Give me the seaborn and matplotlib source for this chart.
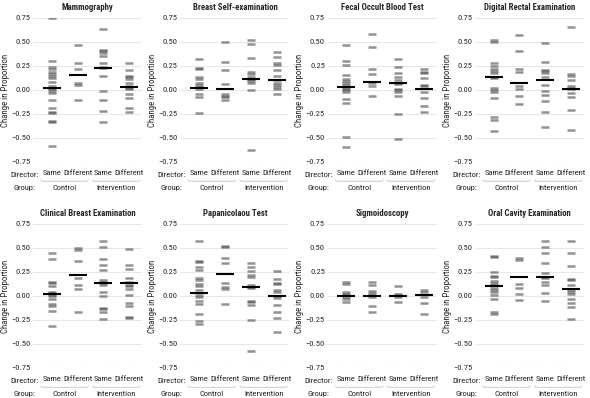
import matplotlib
matplotlib.use('Agg')
import matplotlib.pyplot as plt
import matplotlib.transforms as mtransforms
from matplotlib import font_manager
import numpy as np
import pandas as pd
import seaborn as sns

# order of the four columns in every panel
conditions = ['Control-Same', 'Control-Different', 'Intervention-Same', 'Intervention-Different']
director_labels = ['Same', 'Different', 'Same', 'Different']
group_labels = ['Control', 'Intervention']

titles = ['Mammography', 'Breast Self-examination', 'Fecal Occult Blood Test',
          'Digital Rectal Examination', 'Clinical Breast Examination',
          'Papanicolaou Test', 'Sigmoidoscopy', 'Oral Cavity Examination']

# change in proportion per practice, one list per condition (same order as conditions)
mammography = [
    [0.75, 0.30, 0.24, 0.22, 0.19, 0.17, 0.15, 0.12, 0.08, 0.04, 0.02, 0.01, -0.01, -0.03, -0.10, -0.19, -0.23, -0.24, -0.32, -0.33, -0.58],
    [0.465, 0.285, 0.22, 0.07, 0.05, -0.10],
    [0.63, 0.42, 0.41, 0.38, 0.35, 0.285, 0.24, 0.23, 0.145, -0.01, -0.10, -0.215, -0.33],
    [0.28, 0.205, 0.15, 0.13, 0.11, 0.075, 0.04, 0.025, 0.015, -0.045, -0.08, -0.19, -0.225],
]
breast_self = [
    [0.325, 0.23, 0.22, 0.135, 0.11, 0.07, 0.05, 0.035, 0.01, -0.04, -0.075, -0.235],
    [0.50, 0.29, 0.205, 0.06, -0.045, -0.06, -0.075, -0.10],
    [0.52, 0.475, 0.335, 0.19, 0.17, 0.13, 0.11, 0.11, 0.095, 0.07, -0.005, -0.625],
    [0.395, 0.345, 0.285, 0.255, 0.21, 0.145, 0.105, 0.075, 0.05, 0.03, 0.015, -0.04],
]
fecal = [
    [0.47, 0.30, 0.26, 0.16, 0.11, 0.095, 0.07, 0.05, 0.03, 0.005, -0.005, -0.02, -0.095, -0.14, -0.49, -0.59],
    [0.58, 0.45, 0.22, 0.165, 0.075, 0.04, -0.065],
    [0.32, 0.24, 0.175, 0.13, 0.10, 0.075, 0.065, 0.005, -0.005, -0.02, -0.06, -0.255, -0.51],
    [0.215, 0.19, 0.175, 0.12, 0.055, 0.04, -0.02, -0.08, -0.165, -0.23],
]
digital_rectal = [
    [0.515, 0.50, 0.285, 0.245, 0.215, 0.195, 0.175, 0.135, 0.125, 0.025, 0.0, -0.02, -0.08, -0.28, -0.315, -0.43],
    [0.57, 0.41, 0.215, 0.19, 0.04, 0.015, -0.06, -0.145],
    [0.49, 0.295, 0.21, 0.195, 0.18, 0.13, 0.05, -0.01, -0.05, -0.12, -0.23, -0.39],
    [0.66, 0.165, 0.145, 0.10, 0.04, 0.025, 0.005, -0.035, -0.07, -0.21, -0.42],
]
clinical_breast = [
    [0.45, 0.38, 0.15, 0.14, 0.10, 0.045, 0.03, 0.01, -0.005, -0.035, -0.08, -0.10, -0.155, -0.31],
    [0.50, 0.475, 0.365, 0.185, 0.115, 0.07, -0.165],
    [0.575, 0.505, 0.39, 0.32, 0.27, 0.165, 0.15, 0.13, 0.115, 0.045, -0.005, -0.13, -0.14, -0.165, -0.245],
    [0.49, 0.32, 0.285, 0.185, 0.15, 0.115, 0.10, 0.075, 0.005, -0.07, -0.10, -0.22, -0.23],
]
pap_test = [
    [0.575, 0.365, 0.35, 0.30, 0.275, 0.19, 0.165, 0.12, 0.10, 0.065, 0.005, -0.015, -0.05, -0.085, -0.19, -0.26, -0.295],
    [0.52, 0.505, 0.40, 0.345, 0.14, 0.095, 0.075, -0.08],
    [0.345, 0.305, 0.26, 0.22, 0.20, 0.11, 0.095, 0.08, -0.05, -0.065, -0.095, -0.255, -0.57],
    [0.26, 0.18, 0.14, 0.12, 0.065, 0.045, -0.005, -0.025, -0.095, -0.165, -0.23, -0.375],
]
sigmoidoscopy = [
    [0.15, 0.12, 0.04, 0.025, 0.005, -0.015, -0.035, -0.06],
    [0.15, 0.11, 0.05, 0.03, 0.005, -0.015, -0.10, -0.165],
    [0.105, 0.025, 0.005, -0.015, -0.06],
    [0.065, 0.045, -0.01, -0.07, -0.185],
]
oral_cavity = [
    [0.42, 0.405, 0.245, 0.21, 0.195, 0.155, 0.14, 0.115, 0.085, 0.065, 0.045, 0.005, -0.03, -0.17, -0.19],
    [0.40, 0.37, 0.12, 0.08, 0.02, -0.04],
    [0.57, 0.505, 0.445, 0.34, 0.235, 0.20, 0.185, 0.15, 0.115, 0.035, -0.05],
    [0.57, 0.45, 0.31, 0.175, 0.165, 0.11, 0.065, 0.045, 0.025, -0.03, -0.07, -0.12, -0.235],
]

# group means (thick black bars)
means = [
    [0.025, 0.155, 0.225, 0.03],
    [0.025, 0.005, 0.11, 0.10],
    [0.03, 0.085, 0.075, 0.01],
    [0.13, 0.07, 0.10, 0.015],
    [0.025, 0.22, 0.13, 0.14],
    [0.035, 0.23, 0.095, 0.0],
    [0.0, 0.0, 0.0, 0.005],
    [0.10, 0.195, 0.195, 0.075],
]

panels = [mammography, breast_self, fecal, digital_rectal,
          clinical_breast, pap_test, sigmoidoscopy, oral_cavity]

sns.set_style('white')

# the original uses a condensed sans; use one if it is installed
fsize = 5.5
tick_size = 5.3
font_family = ['Liberation Sans', 'DejaVu Sans']
font_stretch = 'normal'
narrow = [f for f in font_manager.fontManager.ttflist
          if f.stretch in ('condensed', 'semi-condensed', 'extra-condensed')
          or 'Condensed' in f.name or 'Narrow' in f.name]
for pref in ['Roboto Condensed', 'Liberation Sans Narrow', 'DejaVu Sans', 'Noto Sans',
             'Open Sans Condensed', 'Open Sans']:
    hits = [f for f in narrow if f.name == pref]
    if hits:
        font_family = [pref, 'DejaVu Sans']
        font_stretch = hits[0].stretch
        fsize = 6.3
        tick_size = 6.1
        break
plt.rcParams['font.family'] = font_family
plt.rcParams['font.stretch'] = font_stretch
plt.rcParams['font.size'] = fsize

fig, axes = plt.subplots(2, 4, figsize=(5.9, 3.98), dpi=100)
fig.subplots_adjust(left=0.056, right=0.99, top=0.955, bottom=0.0754,
                    wspace=0.35, hspace=0.43)

grid_col = '#e8e8e8'

for k, ax in enumerate(axes.flat):
    rows = []
    for cond, vals in zip(conditions, panels[k]):
        for v in vals:
            rows.append((cond, v))
    df = pd.DataFrame(rows, columns=['condition', 'change'])
    mdf = pd.DataFrame({'condition': conditions, 'change': means[k]})

    ax.set_axisbelow(True)
    ax.grid(True, color=grid_col, linewidth=0.8)

    sns.stripplot(data=df, x='condition', y='change', order=conditions, ax=ax,
                  jitter=False, marker='_', size=6, linewidth=1.8,
                  color='#4a4a4a', alpha=0.6, zorder=3)
    sns.stripplot(data=mdf, x='condition', y='change', order=conditions, ax=ax,
                  jitter=False, marker='_', size=13, linewidth=1.5,
                  color='black', zorder=4)

    ax.set_xlim(-0.72, 3.5)
    ax.set_ylim(-0.75, 0.75)
    ax.set_yticks([-0.75, -0.5, -0.25, 0, 0.25, 0.5, 0.75])
    ax.set_yticklabels(['\u22120.75', '\u22120.50', '\u22120.25', '0.00', '0.25', '0.50', '0.75'])
    ax.set_xticks(range(4))
    ax.set_xticklabels(director_labels)
    ax.tick_params(axis='x', length=2.5, color='#bbbbbb', pad=3, labelsize=tick_size)
    ax.tick_params(axis='y', length=0, pad=2, labelsize=tick_size)
    for s in ax.spines.values():
        s.set_visible(False)
    ax.axhline(-0.75, color='#cccccc', linewidth=0.8, linestyle=':', zorder=1)

    ax.set_xlabel('')
    ax.set_ylabel('Change in Proportion', fontsize=fsize)
    ax.yaxis.set_label_coords(-0.215, 0.5)
    ax.set_title(titles[k], fontsize=fsize, fontweight='bold', pad=6)

    trans = mtransforms.blended_transform_factory(ax.transData, ax.transAxes)
    ax.text(-0.08, -0.09, 'Director:', transform=ax.transAxes,
            ha='center', va='center', fontsize=tick_size)
    ax.text(-0.08, -0.18, 'Group:', transform=ax.transAxes,
            ha='center', va='center', fontsize=tick_size)
    for g, name in enumerate(group_labels):
        x0 = 2 * g - 0.42
        x1 = 2 * g + 1.42
        ax.plot([x0, x0 + 0.05, x1 - 0.05, x1], [-0.124, -0.134, -0.134, -0.124],
                transform=trans, color='#cccccc', linewidth=0.7, clip_on=False)
        ax.text(2 * g + 0.5, -0.18, name, transform=trans,
                ha='center', va='center', fontsize=tick_size)

plt.savefig('out.png', dpi=100)
